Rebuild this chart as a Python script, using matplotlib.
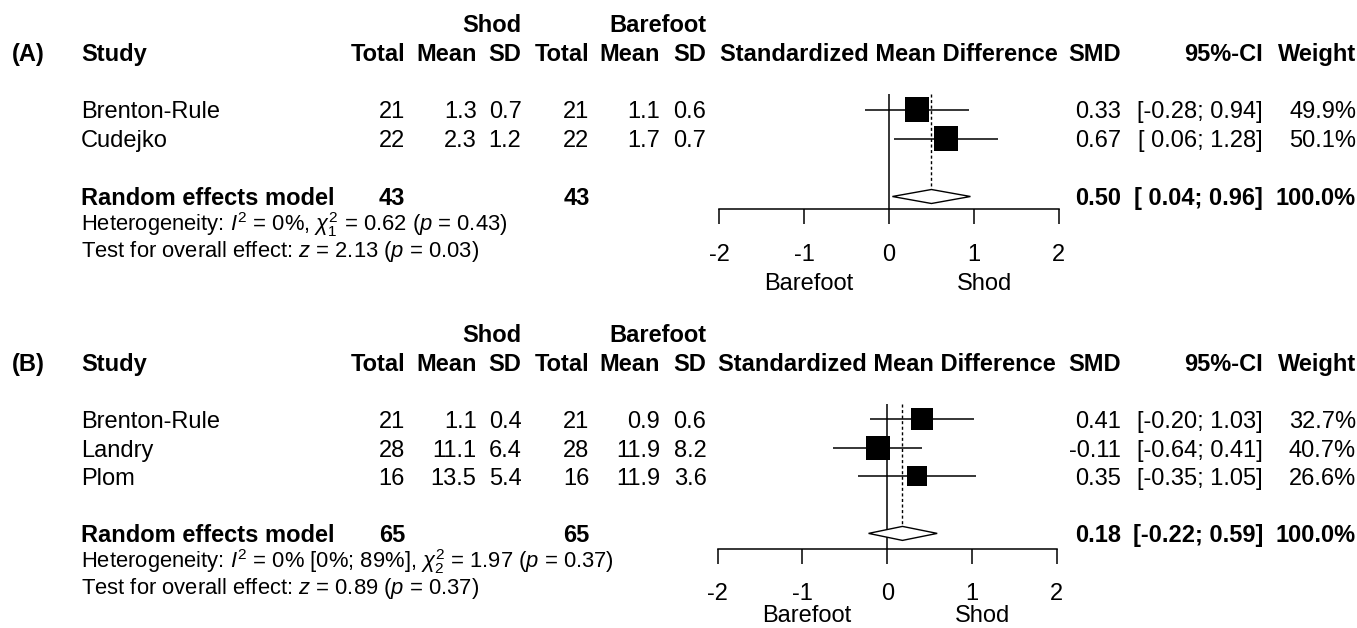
import numpy as np
import matplotlib.pyplot as plt

plt.rcParams['font.family'] = ['Liberation Sans', 'DejaVu Sans']
plt.rcParams['mathtext.fontset'] = 'custom'
plt.rcParams['mathtext.rm'] = 'Liberation Sans'
plt.rcParams['mathtext.it'] = 'Liberation Sans:italic'
plt.rcParams['mathtext.bf'] = 'Liberation Sans:bold'
plt.rcParams['axes.unicode_minus'] = False

# ---- panel A data
studies_a = ['Brenton-Rule', 'Cudejko']
n_shod_a = [21, 22]
mean_shod_a = [1.3, 2.3]
sd_shod_a = [0.7, 1.2]
n_bare_a = [21, 22]
mean_bare_a = [1.1, 1.7]
sd_bare_a = [0.6, 0.7]
smd_a = [0.33, 0.67]
lo_a = [-0.28, 0.06]
hi_a = [0.94, 1.28]
weight_a = [49.9, 50.1]
pooled_a = [0.50, 0.04, 0.96]
het_a = r'Heterogeneity: $I^2$ = 0%, $\chi^2_1$ = 0.62 ($p$ = 0.43)'
test_a = r'Test for overall effect: $z$ = 2.13 ($p$ = 0.03)'

# ---- panel B data
studies_b = ['Brenton-Rule', 'Landry', 'Plom']
n_shod_b = [21, 28, 16]
mean_shod_b = [1.1, 11.1, 13.5]
sd_shod_b = [0.4, 6.4, 5.4]
n_bare_b = [21, 28, 16]
mean_bare_b = [0.9, 11.9, 11.9]
sd_bare_b = [0.6, 8.2, 3.6]
smd_b = [0.41, -0.11, 0.35]
lo_b = [-0.20, -0.64, -0.35]
hi_b = [1.03, 0.41, 1.05]
weight_b = [32.7, 40.7, 26.6]
pooled_b = [0.18, -0.22, 0.59]
het_b = r'Heterogeneity: $I^2$ = 0% [0%; 89%], $\chi^2_2$ = 1.97 ($p$ = 0.37)'
test_b = r'Test for overall effect: $z$ = 0.89 ($p$ = 0.37)'

xticks = [-2, -1, 0, 1, 2]

W, H = 1357, 628
FS = 17
FS_NOTE = 15.8
CAP = 0.716 * FS * 100 / 72

fig = plt.figure(figsize=(W / 100, H / 100), dpi=100)
bg = fig.add_axes([0, 0, 1, 1])
bg.set_xlim(0, W)
bg.set_ylim(H, 0)
bg.axis('off')


def txt(x, y, s, ha='left', bold=False, size=FS):
    cap = 0.716 * size * 100 / 72
    bg.text(x, y + cap / 2, s, ha=ha, va='baseline', fontsize=size,
            fontweight='bold' if bold else 'normal')


# right edges of the table columns
cols = [405, 476.5, 521.5, 589.5, 660, 706.5]
x_smd, x_ci, x_w = 1121, 1263, 1356


def panel(tag, y0, row0, step, ax_l, ax_r, ax_top, ax_bot, lab_off,
          studies, ns, ms, ss, nb, mb, sb, smd, lo, hi, w, pooled, het, test):
    k = len(studies)
    # headers
    txt(12, y0 + 29, tag, bold=True)
    txt(81, y0 + 29, 'Study', bold=True)
    txt(cols[2], y0, 'Shod', ha='right', bold=True)
    txt(cols[5], y0, 'Barefoot', ha='right', bold=True)
    for x, h in zip(cols, ['Total', 'Mean', 'SD', 'Total', 'Mean', 'SD']):
        txt(x, y0 + 29, h, ha='right', bold=True)
    txt((ax_l + ax_r) / 2, y0 + 29, 'Standardized Mean Difference', ha='center', bold=True)
    txt(x_smd, y0 + 29, 'SMD', ha='right', bold=True)
    txt(x_ci, y0 + 29, '95%-CI', ha='right', bold=True)
    txt(x_w, y0 + 29, 'Weight', ha='right', bold=True)

    # study rows
    for i in range(k):
        y = row0 + step * i + 0.5
        txt(81, y, studies[i])
        vals = [f'{ns[i]}', f'{ms[i]:.1f}', f'{ss[i]:.1f}',
                f'{nb[i]}', f'{mb[i]:.1f}', f'{sb[i]:.1f}']
        for x, v in zip(cols, vals):
            txt(x, y, v, ha='right')
        txt(x_smd, y, f'{smd[i]:.2f}', ha='right')
        txt(x_ci, y, f'[{lo[i]:5.2f}; {hi[i]:4.2f}]', ha='right')
        txt(x_w, y, f'{w[i]:.1f}%', ha='right')

    # pooled row
    y_re = row0 + step * (k + 1)
    txt(81, y_re, 'Random effects model', bold=True)
    txt(cols[0], y_re, f'{sum(ns)}', ha='right', bold=True)
    txt(cols[3], y_re, f'{sum(nb)}', ha='right', bold=True)
    txt(x_smd, y_re, f'{pooled[0]:.2f}', ha='right', bold=True)
    txt(x_ci, y_re, f'[{pooled[1]:5.2f}; {pooled[2]:4.2f}]', ha='right', bold=True)
    txt(x_w, y_re, '100.0%', ha='right', bold=True)
    txt(81, y_re + 27, het, size=FS_NOTE)
    txt(81, y_re + 53, test, size=FS_NOTE)

    # forest part
    ax = fig.add_axes([ax_l / W, 1 - ax_bot / H, (ax_r - ax_l) / W, (ax_bot - ax_top) / H])
    ax.patch.set_visible(False)
    ax.set_xlim(-2, 2)
    ax.set_ylim((ax_bot - row0) / step, (ax_top - row0) / step)
    rows = np.arange(k)
    side = 17.4 * np.sqrt(np.array(w) / max(w))
    ax.hlines(rows, lo, hi, color='black', lw=1.1)
    ax.scatter(smd, rows, marker='s', s=side ** 2, c='black', linewidths=0, zorder=3)
    re_row = k + 1
    dh = 7.0 / step
    ax.axvline(0, color='black', lw=1.1)
    ax.vlines(pooled[0], (ax_top - row0) / step, re_row - dh, color='black',
              lw=1.0, linestyles=(0, (2.2, 1.8)))
    ax.fill([pooled[1], pooled[0], pooled[2], pooled[0]],
            [re_row, re_row - dh, re_row, re_row + dh],
            facecolor='white', edgecolor='black', lw=1.0, zorder=3)
    for s in ['top', 'left', 'right']:
        ax.spines[s].set_visible(False)
    ax.spines['bottom'].set_linewidth(1.1)
    ax.set_yticks([])
    ax.set_xticks(xticks)
    ax.tick_params(axis='x', length=10.8, width=1.1, pad=14, labelsize=FS)
    ax_unit = (ax_r - ax_l) / 4
    zero = (ax_l + ax_r) / 2
    txt(zero - 0.95 * ax_unit, ax_bot + lab_off, 'Barefoot', ha='center')
    txt(zero + 1.13 * ax_unit, ax_bot + lab_off, 'Shod', ha='center')


panel('(A)', 23.5, 109.5, 29.0, 719.3, 1058.7, 94.3, 209.3, 72,
      studies_a, n_shod_a, mean_shod_a, sd_shod_a, n_bare_a, mean_bare_a, sd_bare_a,
      smd_a, lo_a, hi_a, weight_a, pooled_a, het_a, test_a)

panel('(B)', 333.5, 419.0, 28.6, 717.7, 1056.7, 404.0, 549.0, 65,
      studies_b, n_shod_b, mean_shod_b, sd_shod_b, n_bare_b, mean_bare_b, sd_bare_b,
      smd_b, lo_b, hi_b, weight_b, pooled_b, het_b, test_b)

fig.savefig('out.png', dpi=100)
